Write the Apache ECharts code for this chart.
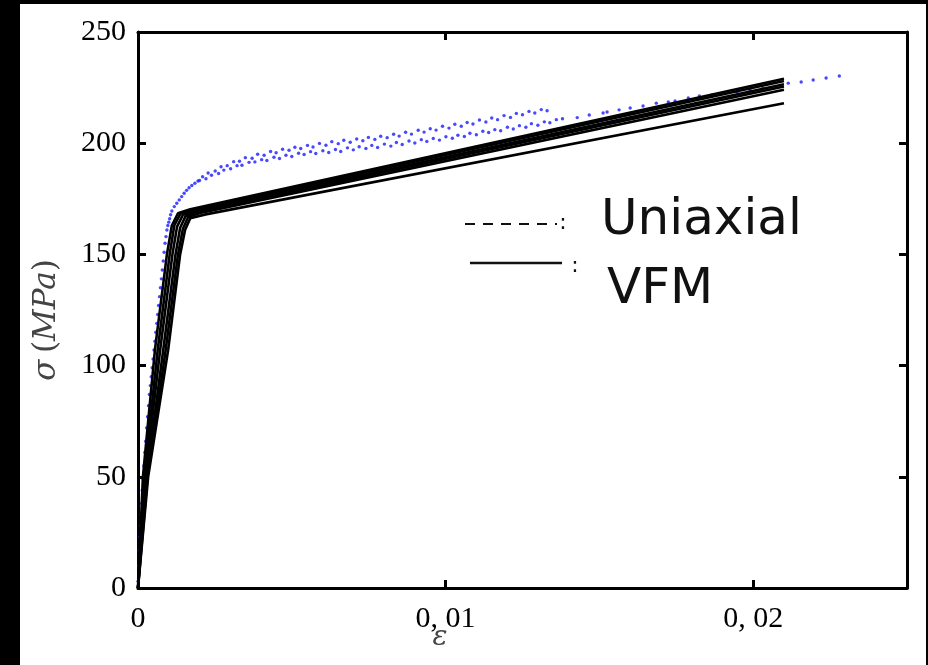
<!DOCTYPE html>
<html><head><meta charset="utf-8">
<script src="https://cdn.jsdelivr.net/npm/echarts@6/dist/echarts.min.js"></script>
<style>
html,body{margin:0;padding:0;background:#000;width:928px;height:665px;overflow:hidden}
#c{position:absolute;left:20px;top:4px;width:906px;height:661px;background:#fff}
</style>
</head><body><div id="c"></div>
<script>
// ---- tick values ----
const xTicks = [0, 0.01, 0.02];
const yTicks = [0, 50, 100, 150, 200, 250];

// ---- Uniaxial test points [strain, stress MPa] ----
const uniaxElastic = [
[0.00000,3],[0.00002,10],[0.00004,17],[0.00006,23],[0.00008,28],[0.00010,33],[0.00012,38],[0.00014,44],
[0.00016,49],[0.00019,55],[0.00022,61],[0.00025,66],[0.00028,72],[0.00031,77],[0.00034,82],[0.00037,87],
[0.00040,91],[0.00043,95],[0.00046,99],[0.00049,103],[0.00052,107],[0.00055,111],[0.00058,115],[0.00061,119],
[0.00064,123],[0.00067,127],[0.00070,131],[0.00073,135],[0.00076,139],[0.00079,143],[0.00082,147],[0.00085,151],
[0.00088,155],[0.00091,158],[0.00094,161],[0.00097,163],[0.00100,164.5],[0.00103,166],[0.00106,167.8],
[0.00110,169.5],[0.00118,171.5],[0.00126,173],[0.00134,174.5],[0.00142,176],[0.00150,177.5],[0.00158,178.8],
[0.00166,180],[0.00175,181],[0.00185,182],[0.00195,183]
];
const uniaxLow = [
[0.00200,183.2],[0.00221,184.0],[0.00239,185.6],[0.00262,186.4],[0.00279,187.9],[0.00301,188.5],[0.00322,189.9],
[0.00338,190.1],[0.00361,191.4],[0.00380,191.6],[0.00402,192.6],[0.00419,192.2],[0.00442,193.7],[0.00460,193.1],
[0.00481,194.6],[0.00500,194.0],[0.00522,195.5],[0.00540,194.9],[0.00561,196.2],[0.00578,195.4],[0.00601,196.6],
[0.00620,195.8],[0.00642,197.2],[0.00659,196.3],[0.00681,197.9],[0.00700,197.0],[0.00719,198.4],[0.00741,197.6],
[0.00760,199.0],[0.00779,198.1],[0.00801,199.6],[0.00822,198.7],[0.00840,200.3],[0.00859,199.4],[0.00881,201.0],
[0.00900,200.1],[0.00921,201.6],[0.00939,200.8],[0.00960,202.1],[0.00980,201.4],[0.01001,202.9],[0.01022,202.2],
[0.01040,203.6],[0.01061,203.0],[0.01079,204.5],[0.01100,203.8],[0.01121,205.4],[0.01140,204.8],[0.01160,206.1],
[0.01179,205.6],[0.01201,207.2],[0.01220,206.4],[0.01240,207.9],[0.01261,207.2],[0.01279,208.8],[0.01300,208.1],
[0.01321,209.6],[0.01339,209.2],[0.01360,210.6],[0.01380,211.0],[0.01428,211.5],[0.01467,212.7],[0.01512,213.6],
[0.01525,214.0],[0.01564,215.0],[0.01600,215.8],[0.01642,216.7],[0.01685,218.0],[0.01724,218.5],[0.01746,219.0],
[0.01789,220.3],[0.01825,221.2],[0.01866,221.7],[0.01907,222.3],[0.01948,223.0],[0.01990,223.8],[0.02031,224.6],
[0.02072,225.5],[0.02114,227.0],[0.02156,227.5],[0.02195,228.4],[0.02237,229.3],[0.02280,230.2]
];
const uniaxHigh = [
[0.00210,184.9],[0.00228,186.6],[0.00251,187.5],[0.00270,189.4],[0.00290,189.9],[0.00311,191.7],[0.00330,191.9],
[0.00349,193.5],[0.00371,193.2],[0.00389,195.0],[0.00410,194.6],[0.00431,196.3],[0.00449,195.7],[0.00470,197.3],
[0.00491,196.8],[0.00510,198.2],[0.00529,197.6],[0.00551,199.0],[0.00569,198.3],[0.00590,199.9],[0.00611,199.1],
[0.00630,200.7],[0.00651,199.8],[0.00669,201.3],[0.00690,200.4],[0.00711,201.9],[0.00731,201.1],[0.00749,202.6],
[0.00770,201.7],[0.00789,203.1],[0.00810,202.5],[0.00831,204.0],[0.00849,203.2],[0.00870,204.9],[0.00889,204.1],
[0.00911,205.8],[0.00930,205.0],[0.00950,206.5],[0.00969,205.9],[0.00990,207.6],[0.01011,206.8],[0.01030,208.5],
[0.01051,207.6],[0.01070,209.3],[0.01089,208.6],[0.01110,210.4],[0.01131,209.5],[0.01150,211.3],[0.01169,210.6],
[0.01190,212.4],[0.01211,211.6],[0.01230,213.4],[0.01250,212.8],[0.01271,214.3],[0.01290,213.6],[0.01311,215.1],
[0.01330,214.6]
];

// ---- VFM identified curves [strain, stress MPa] ----
const vfm1 = [[0,0],[0.00016,50],[0.00055,107],[0.00094,150],[0.00110,163],[0.00130,168.5],[0.0017,170.3],[0.021,229]];
const vfm2 = [[0,0],[0.00020,50],[0.00064,107],[0.00103,150],[0.00118,163],[0.00138,168.3],[0.0018,170.0],[0.021,228]];
const vfm3 = [[0,0],[0.00024,50],[0.00072,107],[0.00112,150],[0.00127,162.5],[0.00146,167.8],[0.0019,169.6],[0.021,226.5]];
const vfm4 = [[0,0],[0.00028,50],[0.00082,107],[0.00122,150],[0.00137,162],[0.00155,167.3],[0.0020,169.3],[0.021,225.5]];
const vfm5 = [[0,0],[0.00031,50],[0.00090,107],[0.00130,150],[0.00146,161.5],[0.00163,166.8],[0.0021,168.9],[0.021,224]];
const vfm6 = [[0,0],[0.00033,50],[0.00098,107],[0.00137,150],[0.00153,161],[0.00170,166.3],[0.0022,168.0],[0.021,218]];
const vfmCurves = [vfm1, vfm2, vfm3, vfm4, vfm5, vfm6];

const chart = echarts.init(document.getElementById('c'), null, {renderer: 'canvas'});

const axisLineStyle = {show: true, onZero: false, lineStyle: {color: '#000', width: 3}};
const tickStyle = {show: true, inside: true, length: 8, lineStyle: {color: '#000', width: 3}};
const serif = 'Liberation Serif';

function xFmt(v) {
  if (v === 0) return '0';
  return (+v.toFixed(4)).toString().replace('.', ', ');
}

const xMin = xTicks[0], xMax = 0.025, xInt = xTicks[1] - xTicks[0];
const yMin = yTicks[0], yMax = yTicks[yTicks.length - 1], yInt = yTicks[1] - yTicks[0];

const series = [];
[uniaxElastic, uniaxLow, uniaxHigh].forEach(d => {
  series.push({
    type: 'scatter', data: d, symbol: 'circle', symbolSize: 3.4,
    itemStyle: {color: '#1a1aff'}, z: 2, silent: true
  });
});
vfmCurves.forEach(d => {
  series.push({
    type: 'line', data: d, showSymbol: false, symbol: 'none',
    lineStyle: {color: '#000', width: 2.6}, z: 3, silent: true
  });
});

chart.setOption({
  animation: false,
  backgroundColor: '#fff',
  grid: {left: 118, right: 19, top: 28, bottom: 77, containLabel: false},
  xAxis: [
    {type: 'value', min: xMin, max: xMax, interval: xInt, position: 'bottom',
     axisLine: axisLineStyle, axisTick: tickStyle, splitLine: {show: false},
     axisLabel: {formatter: xFmt, fontFamily: serif, fontSize: 30, color: '#000', margin: 16, showMaxLabel: false}},
    {type: 'value', min: xMin, max: xMax, interval: xInt, position: 'top',
     axisLine: axisLineStyle, axisTick: tickStyle, splitLine: {show: false}, axisLabel: {show: false}}
  ],
  yAxis: [
    {type: 'value', min: yMin, max: yMax, interval: yInt, position: 'left',
     axisLine: axisLineStyle, axisTick: tickStyle, splitLine: {show: false},
     axisLabel: {fontFamily: serif, fontSize: 30, color: '#000', margin: 12}},
    {type: 'value', min: yMin, max: yMax, interval: yInt, position: 'right',
     axisLine: axisLineStyle, axisTick: tickStyle, splitLine: {show: false}, axisLabel: {show: false}}
  ],
  series: series,
  graphic: [
    {type: 'text', x: 27, y: 316, rotation: Math.PI / 2, silent: true,
     style: {text: '{i|σ}  {r|(}{i|MPa}{r|)}', align: 'center', verticalAlign: 'middle',
       rich: {i: {fontFamily: 'DejaVu Serif', fontStyle: 'italic', fontSize: 31, fill: '#444'},
              r: {fontFamily: 'DejaVu Serif', fontSize: 31, fill: '#444'}}}},
    {type: 'text', x: 420, y: 634, silent: true,
     style: {text: 'ε', fontFamily: 'DejaVu Serif', fontStyle: 'italic', fontSize: 28, fill: '#444',
       align: 'center', verticalAlign: 'middle'}},
    // legend key: dashed
    {type: 'line', silent: true, shape: {x1: 445, y1: 220, x2: 537, y2: 220},
     style: {stroke: '#111', lineWidth: 2, lineDash: [10, 8]}},
    {type: 'text', x: 543, y: 219, silent: true,
     style: {text: ':', fontFamily: 'DejaVu Sans', fontSize: 22, fill: '#111', align: 'center', verticalAlign: 'middle'}},
    {type: 'text', x: 581, y: 217, silent: true,
     style: {text: 'Uniaxial', fontFamily: 'DejaVu Sans', fontSize: 50, fill: '#111', align: 'left', verticalAlign: 'middle'}},
    // legend key: solid
    {type: 'line', silent: true, shape: {x1: 450, y1: 259, x2: 542, y2: 259},
     style: {stroke: '#111', lineWidth: 2.5}},
    {type: 'text', x: 555, y: 262, silent: true,
     style: {text: ':', fontFamily: 'DejaVu Sans', fontSize: 22, fill: '#111', align: 'center', verticalAlign: 'middle'}},
    {type: 'text', x: 587, y: 286, silent: true,
     style: {text: 'VFM', fontFamily: 'DejaVu Sans', fontSize: 50, fill: '#111', align: 'left', verticalAlign: 'middle'}}
  ]
});
</script></body></html>
